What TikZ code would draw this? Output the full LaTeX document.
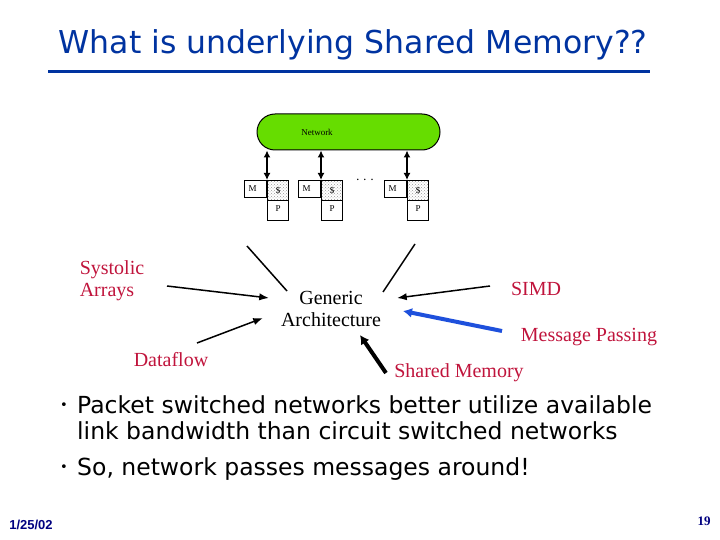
\documentclass[tikz,border=0pt]{standalone}
\usepackage{fontspec}
\setmainfont{Liberation Serif}
\setsansfont{Liberation Sans}
\newfontfamily\comicfont{DejaVu Sans}
\usepackage{xcolor}
\usetikzlibrary{arrows.meta,positioning,patterns}

\definecolor{titleblue}{RGB}{0,51,160}
\definecolor{labelred}{RGB}{192,20,60}
\definecolor{netgreen}{RGB}{102,221,0}
\definecolor{msgblue}{RGB}{30,80,220}
\definecolor{footnavy}{RGB}{0,0,128}
\newcommand{\itemdot}{\raisebox{4pt}{\fontsize{13}{13}\selectfont\textbullet}}

\begin{document}
\begin{tikzpicture}[
  x=1pt, y=-1pt,
  >=Latex,
  cell/.style={draw, line width=1pt, inner sep=0pt, fill=white},
  cache/.style={cell, pattern=crosshatch dots, pattern color=gray!80},
  tiny/.style={font=\fontsize{9}{9}\selectfont},
  lbl/.style={text=labelred, align=left, font=\fontsize{20}{22}\selectfont, inner sep=0pt},
  link/.style={->, line width=1.5pt},
  bigarrow/.style={-{Latex[length=9pt,width=10pt]}, line width=4pt},
  bullet/.style={anchor=north west, inner sep=0pt,
    font=\comicfont\fontsize{23.5}{26}\selectfont}
]
\useasboundingbox (0,0) rectangle (720,540);

% title
\node[text=titleblue, font=\comicfont\fontsize{31.5}{32}\selectfont] (title) at (353,45) {What is underlying Shared Memory??};
\draw[titleblue, line width=3pt] (48,72) -- (650,72);

% network and nodes
\node[draw, line width=1pt, fill=netgreen, rounded corners=18pt,
  minimum width=183pt, minimum height=36pt] (net) at (348.5,132) {};
\node[tiny] (netlbl) at (317,132) {Network};
\foreach \i/\cx in {1/267,2/321,3/407}{
  \node[cell, minimum width=22pt, minimum height=17pt, anchor=north east] (m\i) at (\cx,180) {};
  \node[cache, minimum width=21pt, minimum height=20pt, anchor=north west] (c\i) at (\cx,180) {};
  \node[cell, minimum width=21pt, minimum height=20pt, anchor=north west] (p\i) at (\cx,200) {};
  \node[tiny] at ([xshift=-3pt]m\i.center) {M};
  \node[tiny] at (c\i.center) {\$};
  \node[tiny] at ([yshift=2pt]p\i.center) {P};
  \draw[{Latex[length=7pt,width=7pt]}-{Latex[length=7pt,width=7pt]}, line width=2pt]
    (c\i.north west |- net.south) -- (c\i.north west);
}
\node[font=\fontsize{14}{14}\selectfont] (dots) at (365,180) {$\cdot\cdot\cdot$};

% generic architecture and its views
\node[align=center, font=\fontsize{20}{22}\selectfont, inner sep=0pt] (gen) at (331,309) {Generic\\Architecture};
\coordinate (fromleft) at (247,246);
\coordinate (toleft) at (287,291);
\coordinate (fromright) at (415,244);
\coordinate (toright) at (383,292);
\draw[line width=1.5pt] (fromleft) -- (toleft);
\draw[line width=1.5pt] (fromright) -- (toright);

\node[lbl] (sys) at (112,281) {Systolic\\Arrays};
\node[lbl] (df) at (171,360) {Dataflow};
\node[lbl] (simd) at (536,289) {SIMD};
\node[lbl] (mp) at (589,337) {Message Passing};
\node[lbl] (sm) at (459,373) {Shared Memory};

\coordinate (sysend) at (167,286);
\coordinate (sysend') at (269,298);
\coordinate (dfend) at (197,343);
\coordinate (dfend') at (263,318);
\coordinate (simdend) at (490,286);
\coordinate (simdend') at (397,298);
\coordinate (mpend) at (502,331);
\coordinate (mpend') at (403,311);
\coordinate (smend) at (386,373);
\coordinate (smend') at (360,335);
\draw[link] (sysend) -- (sysend');
\draw[link] (dfend) -- (dfend');
\draw[link] (simdend) -- (simdend');
\draw[bigarrow, msgblue] (mpend) -- (mpend');
\draw[bigarrow] (smend) -- (smend');

% bullets
\node[bullet] (b1) at (60,395) {\begin{tabular}{@{}p{17pt}@{}l@{}}
  \itemdot & Packet switched networks better utilize available\\
  & link bandwidth than circuit switched networks
\end{tabular}};
\node[bullet] (b2) at (60,457) {\begin{tabular}{@{}p{17pt}@{}l@{}}
  \itemdot & So, network passes messages around!
\end{tabular}};

% footer
\node[text=footnavy, font=\sffamily\bfseries\fontsize{13}{13}\selectfont] (date) at (31,525) {1/25/02};
\node[text=footnavy, font=\bfseries\fontsize{13}{13}\selectfont] (page) at (704,521) {19};
\end{tikzpicture}
\end{document}
